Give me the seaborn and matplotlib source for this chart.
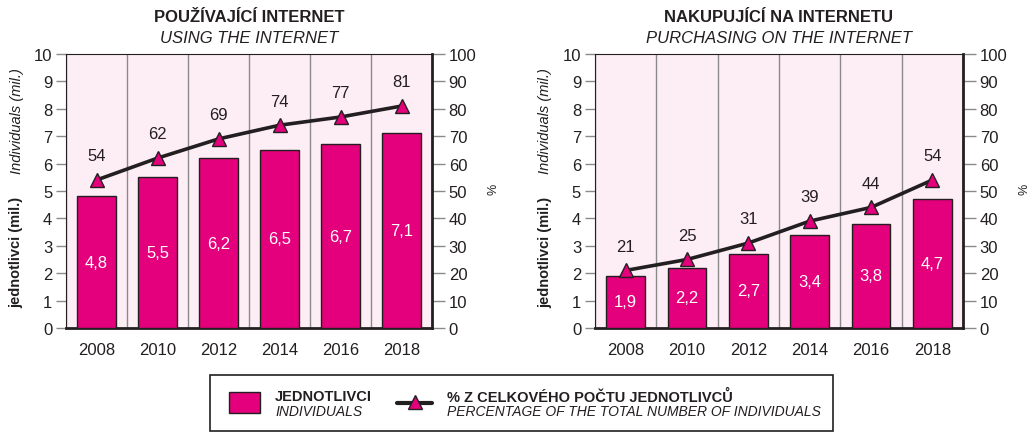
import numpy as np
import pandas as pd
import matplotlib.pyplot as plt
import seaborn as sns
from matplotlib.patches import Rectangle
from matplotlib.lines import Line2D

years = ['2008', '2010', '2012', '2014', '2016', '2018']

using_mil = [4.8, 5.5, 6.2, 6.5, 6.7, 7.1]
using_pct = [54, 62, 69, 74, 77, 81]

buying_mil = [1.9, 2.2, 2.7, 3.4, 3.8, 4.7]
buying_pct = [21, 25, 31, 39, 44, 54]

titles = [('POUŽÍVAJÍCÍ INTERNET', 'USING THE INTERNET'),
          ('NAKUPUJÍCÍ NA INTERNETU', 'PURCHASING ON THE INTERNET')]

MAGENTA = '#e4007c'
BG = '#fdedf4'
DARK = '#231f20'
GREY = '#8a8a8a'

sns.set_style('white')
plt.rcParams['font.family'] = ['Liberation Sans', 'DejaVu Sans']
plt.rcParams['font.size'] = 12

fig = plt.figure(figsize=(10.35, 4.35), dpi=100)
ax_l = fig.add_axes([0.0638, 0.2437, 0.3536, 0.6299])
ax_r = fig.add_axes([0.5749, 0.2437, 0.3555, 0.6299])


def draw_panel(ax, mil, pct, title, subtitle):
    df = pd.DataFrame({'year': years, 'mil': mil, 'pct': pct})
    ax.set_facecolor(BG)
    sns.barplot(data=df, x='year', y='mil', ax=ax, color=MAGENTA, saturation=1,
                width=0.63, edgecolor=DARK, linewidth=1, zorder=3)
    ax.bar_label(ax.containers[0], labels=[f'{v:.1f}'.replace('.', ',') for v in mil],
                 label_type='center', color='white', fontsize=12)
    ax.set_xlim(-0.5, 5.5)
    ax.set_ylim(0, 10)
    ax.set_yticks(range(0, 11))
    ax.set_xlabel('')
    ax.set_ylabel('')
    ax.set_xticks(np.arange(-0.5, 6, 1), minor=True)
    ax.grid(which='minor', axis='x', color=GREY, lw=1, zorder=0)
    ax.grid(which='major', visible=False)
    ax.tick_params(axis='x', which='major', length=0, pad=10, colors=DARK, labelsize=12)
    ax.tick_params(axis='x', which='minor', length=9, width=1, color=GREY, direction='out')
    ax.tick_params(axis='y', length=7, width=1, color=GREY, direction='out',
                   labelcolor=DARK, labelsize=12, pad=3)
    for s in ['top', 'left']:
        ax.spines[s].set_color(DARK)
        ax.spines[s].set_linewidth(0.8)
    ax.spines['bottom'].set_color(DARK)
    ax.spines['bottom'].set_linewidth(2)
    ax.spines['right'].set_visible(False)

    ax2 = ax.twinx()
    sns.lineplot(x=np.arange(len(years)), y=pct, ax=ax2, color=DARK, lw=2.6,
                 marker='^', markersize=10, markerfacecolor=MAGENTA,
                 markeredgecolor=DARK, markeredgewidth=1, zorder=5)
    for i, v in enumerate(pct):
        ax2.annotate(str(v), (i, v), xytext=(0, 12), textcoords='offset points',
                     ha='center', va='bottom', fontsize=12, color=DARK)
    ax2.set_ylim(0, 100)
    ax2.set_yticks(range(0, 101, 10))
    ax2.set_xlim(-0.5, 5.5)
    ax2.tick_params(axis='y', length=9, width=1, color=GREY, direction='out',
                    labelcolor=DARK, labelsize=12, pad=3)
    for s in ['top', 'left', 'bottom']:
        ax2.spines[s].set_visible(False)
    ax2.spines['right'].set_color(DARK)
    ax2.spines['right'].set_linewidth(2)
    ax2.text(1.167, 0.51, '%', transform=ax2.transAxes, rotation=90,
             ha='center', va='center', fontsize=9, color=DARK)

    ax.text(-0.135, 0.28, 'jednotlivci (mil.)', transform=ax.transAxes, rotation=90,
            ha='center', va='center', fontsize=10.5, fontweight='bold', color=DARK)
    ax.text(-0.135, 0.76, 'Individuals (mil.)', transform=ax.transAxes, rotation=90,
            ha='center', va='center', fontsize=10.5, style='italic', color=DARK)

    ax.text(0.5, 1.135, title, transform=ax.transAxes, ha='center', va='center',
            fontsize=12, fontweight='bold', color=DARK)
    ax.text(0.5, 1.06, subtitle, transform=ax.transAxes, ha='center', va='center',
            fontsize=12, style='italic', color=DARK)


draw_panel(ax_l, using_mil, using_pct, *titles[0])
draw_panel(ax_r, buying_mil, buying_pct, *titles[1])

# legend box
lg = fig.add_axes([0, 0, 1, 1], facecolor='none')
lg.set_xlim(0, 1035)
lg.set_ylim(435, 0)
lg.axis('off')
lg.add_patch(Rectangle((210, 376), 623, 56, fill=False, edgecolor=DARK, lw=1.2))
lg.add_patch(Rectangle((229, 393), 31, 21, facecolor=MAGENTA, edgecolor=DARK, lw=1))
lg.text(275, 397, 'JEDNOTLIVCI', fontsize=10.5, fontweight='bold', va='center', color=DARK)
lg.text(275, 412, 'INDIVIDUALS', fontsize=10, style='italic', va='center', color=DARK)
lg.add_line(Line2D([397, 432], [404, 404], color=DARK, lw=3, zorder=2))
lg.add_line(Line2D([415], [403], marker='^', markersize=10, markerfacecolor=MAGENTA,
                   markeredgecolor=DARK, zorder=3))
lg.text(447, 397, '% Z CELKOVÉHO POČTU JEDNOTLIVCŮ', fontsize=10.5, fontweight='bold',
        va='center', color=DARK)
lg.text(447, 412, 'PERCENTAGE OF THE TOTAL NUMBER OF INDIVIDUALS', fontsize=10,
        style='italic', va='center', color=DARK)

fig.savefig('out.png', dpi=100)
